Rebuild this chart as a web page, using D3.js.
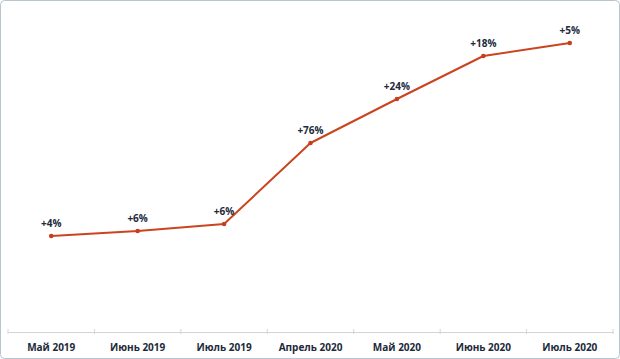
<!DOCTYPE html>
<html><head><meta charset="utf-8">
<script src="https://cdn.jsdelivr.net/npm/d3@7"></script>
<style>
html,body{margin:0;padding:0;background:#fff;}
svg{display:block;}
</style></head>
<body>
<svg id="c" width="620" height="359"></svg>
<script>
const categories = ["Май 2019","Июнь 2019","Июль 2019","Апрель 2020","Май 2020","Июнь 2020","Июль 2020"];
const values = [96, 101, 108, 189, 233, 276, 289];
const labels = ["+4%","+6%","+6%","+76%","+24%","+18%","+5%"];

const svg = d3.select("#c");
const W = 620, H = 359;
svg.append("rect").attr("x",0.5).attr("y",0.5).attr("width",W-1).attr("height",H-1)
  .attr("rx",4).attr("fill","#fff").attr("stroke","#b9c5cd").attr("stroke-width",1);

const left = 8, right = 613, base = 332;
const x = d3.scaleBand().domain(categories).range([left, right]).padding(0);
const y = d3.scaleLinear().domain([0, 300]).range([base, base - 300]);

const axis = svg.append("g").attr("transform", `translate(0,${base})`)
  .call(d3.axisBottom(x).tickSize(0).tickPadding(12));
axis.select(".domain").attr("stroke","#d4d4d4").attr("stroke-width",1);
axis.selectAll("text").attr("font-family","'Open Sans', sans-serif").attr("font-size","10px")
  .attr("font-weight","700").attr("fill","#1c2a3a");
// category boundary tick marks
const bounds = categories.map(c => x(c)).concat([right]);
svg.append("g").selectAll("line").data(bounds).join("line")
  .attr("x1", d => d).attr("x2", d => d).attr("y1", base - 3).attr("y2", base + 2)
  .attr("stroke","#d4d4d4").attr("stroke-width",1);

const cx = c => x(c) + x.bandwidth()/2;
const line = d3.line().x((d,i) => cx(categories[i])).y(d => y(d));
svg.append("path").datum(values).attr("d", line)
  .attr("fill","none").attr("stroke","#cb4420").attr("stroke-width",2).attr("stroke-linejoin","round");
svg.append("g").selectAll("circle").data(values).join("circle")
  .attr("cx",(d,i)=>cx(categories[i])).attr("cy",d=>y(d)).attr("r",2.3).attr("fill","#c73e1d");
svg.append("g").selectAll("text").data(values).join("text")
  .attr("x",(d,i)=>cx(categories[i])).attr("y",d=>y(d)-9)
  .attr("text-anchor","middle")
  .attr("font-family","'Open Sans', sans-serif").attr("font-size","10px").attr("font-weight","700")
  .attr("fill","#1c2a3a").text((d,i)=>labels[i]);
</script>
</body></html>
